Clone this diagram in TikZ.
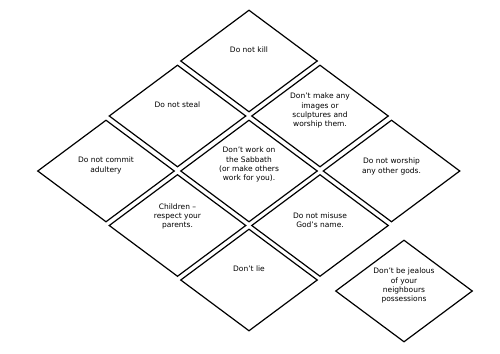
\documentclass[tikz,border=0pt]{standalone}
\usepackage{fontspec}
\setmainfont{DejaVu Sans}
\usetikzlibrary{shapes.geometric}

\begin{document}
\begin{tikzpicture}[x=1pt, y=-1pt,
  card/.style={diamond, draw, line width=1.2pt, minimum width=137pt, minimum height=102pt, inner sep=0pt},
  txt/.style={anchor=north, align=center, inner sep=0pt, font=\fontsize{7.5}{9.2}\selectfont}]
\useasboundingbox (0,0) rectangle (500,353);

% the diamond nine
\node[card] (kill) at (249,61) {};
\node[card] (steal) at (177.5,116) {};
\node[card] (images) at (320,116) {};
\node[card] (adultery) at (106,171) {};
\node[card] (sabbath) at (249,171) {};
\node[card] (worship) at (391.5,171) {};
\node[card] (children) at (177.5,225.5) {};
\node[card] (misuse) at (320,225.5) {};
\node[card] (lie) at (249,280) {};
% spare card
\node[card] (jealous) at (404,291) {};

\node[txt] (kill-t) at ([yshift=14pt]kill.center) {Do not kill};
\node[txt] (steal-t) at ([yshift=14pt]steal.center) {Do not steal};
\node[txt] (images-t) at ([yshift=23pt]images.center) {Don’t make any\\images or\\sculptures and\\worship them.};
\node[txt] (adultery-t) at ([yshift=14pt]adultery.center) {Do not commit\\adultery};
\node[txt] (sabbath-t) at ([yshift=24pt]sabbath.center) {Don’t work on\\the Sabbath\\(or make others\\work for you).};
\node[txt] (worship-t) at ([yshift=13pt]worship.center) {Do not worship\\any other gods.};
\node[txt] (children-t) at ([yshift=22pt]children.center) {Children –\\respect your\\parents.};
\node[txt] (misuse-t) at ([yshift=13pt]misuse.center) {Do not misuse\\God’s name.};
\node[txt] (lie-t) at ([yshift=14pt]lie.center) {Don’t lie};
\node[txt] (jealous-t) at ([yshift=23pt]jealous.center) {Don’t be jealous\\of your\\neighbours\\possessions};
\end{tikzpicture}
\end{document}
